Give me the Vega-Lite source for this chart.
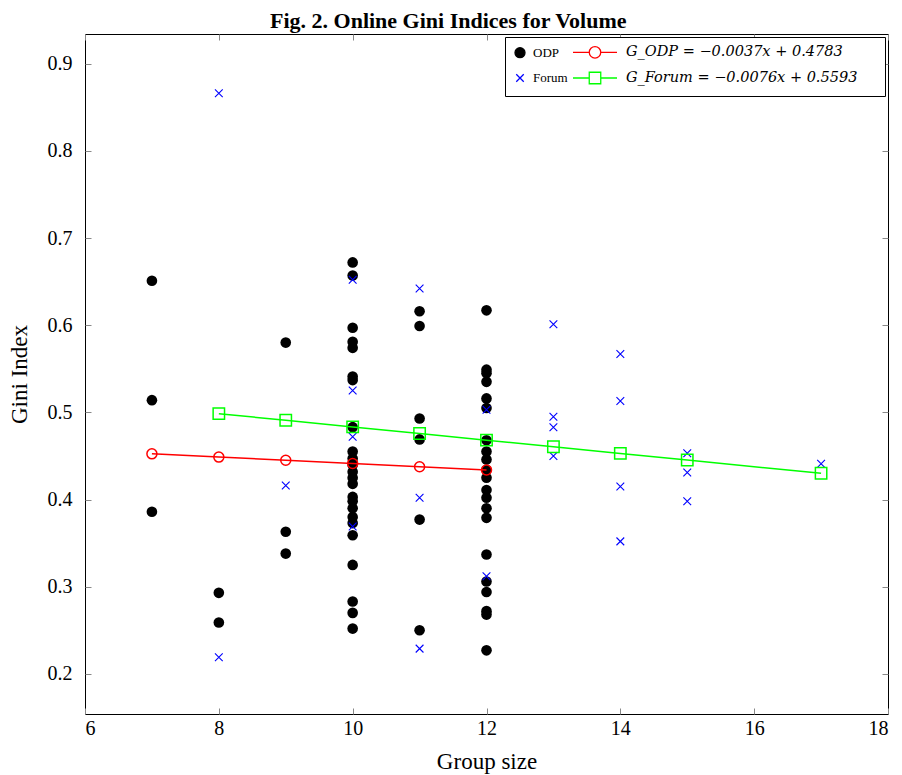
{
  "$schema": "https://vega.github.io/schema/vega-lite/v6.json",
  "width": 803,
  "height": 680,
  "autosize": {"type": "none"},
  "padding": {"left": 85, "top": 34, "right": 14, "bottom": 61},
  "background": "white",
  "title": {"text": "Fig. 2. Online Gini Indices for Volume", "font": "Liberation Serif", "fontSize": 22, "fontWeight": "bold", "color": "black", "anchor": "middle", "frame": "bounds", "offset": 1},
  "config": {
    "view": {"stroke": "black", "strokeWidth": 1},
    "axis": {"domain": false, "grid": false, "ticks": true, "tickColor": "#888888", "tickSize": -6, "tickWidth": 1, "labelFont": "Liberation Serif", "labelFontSize": 20, "labelColor": "black", "titleFont": "Liberation Serif", "titleFontSize": 23, "titleFontWeight": "normal", "titleColor": "black"},
    "legend": {"orient": "top-right", "offset": 3, "columns": 2, "columnPadding": 2, "rowPadding": 8, "padding": 9, "strokeColor": "black", "fillColor": "white", "cornerRadius": 0, "symbolSize": 100, "symbolStrokeWidth": 1.3, "labelFont": "Liberation Serif", "labelFontSize": 13, "labelColor": "black", "labelOffset": 7, "labelLimit": 400, "titleOrient": "right", "titleFontSize": 1, "titlePadding": 19}
  },
  "datasets": {
    "points": [
      {"group_size": 7, "gini": 0.651, "series": "ODP"},
      {"group_size": 7, "gini": 0.514, "series": "ODP"},
      {"group_size": 7, "gini": 0.386, "series": "ODP"},
      {"group_size": 8, "gini": 0.293, "series": "ODP"},
      {"group_size": 8, "gini": 0.259, "series": "ODP"},
      {"group_size": 9, "gini": 0.580, "series": "ODP"},
      {"group_size": 9, "gini": 0.363, "series": "ODP"},
      {"group_size": 9, "gini": 0.338, "series": "ODP"},
      {"group_size": 10, "gini": 0.672, "series": "ODP"},
      {"group_size": 10, "gini": 0.657, "series": "ODP"},
      {"group_size": 10, "gini": 0.597, "series": "ODP"},
      {"group_size": 10, "gini": 0.581, "series": "ODP"},
      {"group_size": 10, "gini": 0.574, "series": "ODP"},
      {"group_size": 10, "gini": 0.541, "series": "ODP"},
      {"group_size": 10, "gini": 0.537, "series": "ODP"},
      {"group_size": 10, "gini": 0.483, "series": "ODP"},
      {"group_size": 10, "gini": 0.455, "series": "ODP"},
      {"group_size": 10, "gini": 0.447, "series": "ODP"},
      {"group_size": 10, "gini": 0.440, "series": "ODP"},
      {"group_size": 10, "gini": 0.432, "series": "ODP"},
      {"group_size": 10, "gini": 0.425, "series": "ODP"},
      {"group_size": 10, "gini": 0.418, "series": "ODP"},
      {"group_size": 10, "gini": 0.403, "series": "ODP"},
      {"group_size": 10, "gini": 0.398, "series": "ODP"},
      {"group_size": 10, "gini": 0.390, "series": "ODP"},
      {"group_size": 10, "gini": 0.380, "series": "ODP"},
      {"group_size": 10, "gini": 0.373, "series": "ODP"},
      {"group_size": 10, "gini": 0.359, "series": "ODP"},
      {"group_size": 10, "gini": 0.325, "series": "ODP"},
      {"group_size": 10, "gini": 0.283, "series": "ODP"},
      {"group_size": 10, "gini": 0.270, "series": "ODP"},
      {"group_size": 10, "gini": 0.252, "series": "ODP"},
      {"group_size": 11, "gini": 0.616, "series": "ODP"},
      {"group_size": 11, "gini": 0.599, "series": "ODP"},
      {"group_size": 11, "gini": 0.493, "series": "ODP"},
      {"group_size": 11, "gini": 0.469, "series": "ODP"},
      {"group_size": 11, "gini": 0.377, "series": "ODP"},
      {"group_size": 11, "gini": 0.250, "series": "ODP"},
      {"group_size": 12, "gini": 0.617, "series": "ODP"},
      {"group_size": 12, "gini": 0.549, "series": "ODP"},
      {"group_size": 12, "gini": 0.545, "series": "ODP"},
      {"group_size": 12, "gini": 0.535, "series": "ODP"},
      {"group_size": 12, "gini": 0.516, "series": "ODP"},
      {"group_size": 12, "gini": 0.505, "series": "ODP"},
      {"group_size": 12, "gini": 0.468, "series": "ODP"},
      {"group_size": 12, "gini": 0.455, "series": "ODP"},
      {"group_size": 12, "gini": 0.446, "series": "ODP"},
      {"group_size": 12, "gini": 0.434, "series": "ODP"},
      {"group_size": 12, "gini": 0.425, "series": "ODP"},
      {"group_size": 12, "gini": 0.411, "series": "ODP"},
      {"group_size": 12, "gini": 0.402, "series": "ODP"},
      {"group_size": 12, "gini": 0.390, "series": "ODP"},
      {"group_size": 12, "gini": 0.379, "series": "ODP"},
      {"group_size": 12, "gini": 0.337, "series": "ODP"},
      {"group_size": 12, "gini": 0.306, "series": "ODP"},
      {"group_size": 12, "gini": 0.294, "series": "ODP"},
      {"group_size": 12, "gini": 0.272, "series": "ODP"},
      {"group_size": 12, "gini": 0.268, "series": "ODP"},
      {"group_size": 12, "gini": 0.227, "series": "ODP"},
      {"group_size": 8, "gini": 0.866, "series": "Forum"},
      {"group_size": 8, "gini": 0.219, "series": "Forum"},
      {"group_size": 9, "gini": 0.416, "series": "Forum"},
      {"group_size": 10, "gini": 0.652, "series": "Forum"},
      {"group_size": 10, "gini": 0.525, "series": "Forum"},
      {"group_size": 10, "gini": 0.472, "series": "Forum"},
      {"group_size": 10, "gini": 0.369, "series": "Forum"},
      {"group_size": 11, "gini": 0.642, "series": "Forum"},
      {"group_size": 11, "gini": 0.402, "series": "Forum"},
      {"group_size": 11, "gini": 0.229, "series": "Forum"},
      {"group_size": 12, "gini": 0.503, "series": "Forum"},
      {"group_size": 12, "gini": 0.312, "series": "Forum"},
      {"group_size": 13, "gini": 0.601, "series": "Forum"},
      {"group_size": 13, "gini": 0.495, "series": "Forum"},
      {"group_size": 13, "gini": 0.483, "series": "Forum"},
      {"group_size": 13, "gini": 0.450, "series": "Forum"},
      {"group_size": 14, "gini": 0.567, "series": "Forum"},
      {"group_size": 14, "gini": 0.513, "series": "Forum"},
      {"group_size": 14, "gini": 0.415, "series": "Forum"},
      {"group_size": 14, "gini": 0.352, "series": "Forum"},
      {"group_size": 15, "gini": 0.453, "series": "Forum"},
      {"group_size": 15, "gini": 0.431, "series": "Forum"},
      {"group_size": 15, "gini": 0.398, "series": "Forum"},
      {"group_size": 17, "gini": 0.441, "series": "Forum"}
    ],
    "fits": [
      {"group_size": 7, "gini": 0.4524, "series": "G_ODP = −0.0037x + 0.4783"},
      {"group_size": 8, "gini": 0.4487, "series": "G_ODP = −0.0037x + 0.4783"},
      {"group_size": 9, "gini": 0.4450, "series": "G_ODP = −0.0037x + 0.4783"},
      {"group_size": 10, "gini": 0.4413, "series": "G_ODP = −0.0037x + 0.4783"},
      {"group_size": 11, "gini": 0.4376, "series": "G_ODP = −0.0037x + 0.4783"},
      {"group_size": 12, "gini": 0.4339, "series": "G_ODP = −0.0037x + 0.4783"},
      {"group_size": 8, "gini": 0.4985, "series": "G_Forum = −0.0076x + 0.5593"},
      {"group_size": 9, "gini": 0.4909, "series": "G_Forum = −0.0076x + 0.5593"},
      {"group_size": 10, "gini": 0.4833, "series": "G_Forum = −0.0076x + 0.5593"},
      {"group_size": 11, "gini": 0.4757, "series": "G_Forum = −0.0076x + 0.5593"},
      {"group_size": 12, "gini": 0.4681, "series": "G_Forum = −0.0076x + 0.5593"},
      {"group_size": 13, "gini": 0.4605, "series": "G_Forum = −0.0076x + 0.5593"},
      {"group_size": 14, "gini": 0.4529, "series": "G_Forum = −0.0076x + 0.5593"},
      {"group_size": 15, "gini": 0.4453, "series": "G_Forum = −0.0076x + 0.5593"},
      {"group_size": 17, "gini": 0.4301, "series": "G_Forum = −0.0076x + 0.5593"}
    ]
  },
  "layer": [
    {
      "encoding": {
        "x": {"field": "group_size", "type": "quantitative", "scale": {"domain": [6, 18], "nice": false, "zero": false}, "axis": {"title": "Group size", "values": [6, 8, 10, 12, 14, 16, 18], "format": "d", "labelPadding": 10, "titlePadding": 12}},
        "y": {"field": "gini", "type": "quantitative", "scale": {"domain": [0.154, 0.934], "nice": false, "zero": false}, "axis": {"title": "Gini Index", "values": [0.2, 0.3, 0.4, 0.5, 0.6, 0.7, 0.8, 0.9], "format": ".1f", "labelPadding": 19, "titlePadding": 16}}
      },
      "layer": [
        {
          "data": {"name": "points"},
          "transform": [{"filter": "datum.series == 'ODP'"}],
          "mark": {"type": "point", "shape": "circle", "filled": true, "color": "black", "opacity": 1, "size": 113}
        },
        {
          "data": {"name": "points"},
          "transform": [{"filter": "datum.series == 'Forum'"}],
          "mark": {"type": "point", "shape": "M-1,-1L1,1M-1,1L1,-1", "filled": false, "color": "#0000ff", "opacity": 1, "size": 60, "strokeWidth": 1.1}
        },
        {
          "data": {"name": "fits"},
          "transform": [{"filter": "indexof(datum.series, 'ODP') >= 0"}],
          "mark": {"type": "line", "color": "#ff0000", "strokeWidth": 1.5}
        },
        {
          "data": {"name": "fits"},
          "transform": [{"filter": "indexof(datum.series, 'Forum') >= 0"}],
          "mark": {"type": "line", "color": "#00ff00", "strokeWidth": 1.5}
        },
        {
          "data": {"name": "fits"},
          "transform": [{"filter": "indexof(datum.series, 'ODP') >= 0"}],
          "mark": {"type": "point", "shape": "circle", "filled": false, "color": "#ff0000", "opacity": 1, "size": 100, "strokeWidth": 1.5}
        },
        {
          "data": {"name": "fits"},
          "transform": [{"filter": "indexof(datum.series, 'Forum') >= 0"}],
          "mark": {"type": "point", "shape": "square", "filled": false, "color": "#00ff00", "opacity": 1, "size": 130, "strokeWidth": 1.5}
        },
        {
          "data": {"name": "fits"},
          "transform": [{"filter": "datum.gini > 1"}],
          "mark": {"type": "point", "opacity": 1, "strokeWidth": 1.3},
          "encoding": {
            "shape": {"field": "series", "type": "nominal", "scale": {"domain": ["ODP", "Forum", "G_ODP = −0.0037x + 0.4783", "G_Forum = −0.0076x + 0.5593"], "range": ["circle", "M-0.75,-0.75L0.75,0.75M-0.75,0.75L0.75,-0.75", "M-4.4,0L-1.15,0M1.15,0L4.4,0M-1.15,0A1.15,1.15,0,1,1,1.15,0A1.15,1.15,0,1,1,-1.15,0", "M-4.4,0L-1.15,0M1.15,0L4.4,0M-1.15,-1.15L1.15,-1.15L1.15,1.15L-1.15,1.15Z"]},
              "legend": {"title": "\u00a0", "encoding": {"labels": {
                  "fontSize": {"condition": {"test": "indexof(datum.label, '=') > 0", "value": 14.5}, "value": 13},
                  "font": {"condition": {"test": "indexof(datum.label, '=') > 0", "value": "DejaVu Serif"}, "value": "Liberation Serif"},
                  "fontStyle": {"condition": {"test": "indexof(datum.label, '=') > 0", "value": "italic"}, "value": "normal"},
                  "dx": {"condition": {"test": "indexof(datum.label, '=') > 0", "value": 18}, "value": 0}
                }}}},
            "fill": {"field": "series", "type": "nominal", "scale": {"domain": ["ODP", "Forum", "G_ODP = −0.0037x + 0.4783", "G_Forum = −0.0076x + 0.5593"], "range": ["black", "transparent", "transparent", "transparent"]}},
            "stroke": {"field": "series", "type": "nominal", "scale": {"domain": ["ODP", "Forum", "G_ODP = −0.0037x + 0.4783", "G_Forum = −0.0076x + 0.5593"], "range": ["black", "#0000ff", "#ff0000", "#00ff00"]}}
          }
        }
      ]
    },
    {
      "data": {"name": "fits"},
      "transform": [{"filter": "datum.gini > 1"}],
      "mark": {"type": "point", "opacity": 0},
      "encoding": {
        "x": {"field": "group_size", "type": "quantitative", "scale": {"domain": [6, 18], "nice": false, "zero": false}, "axis": {"orient": "top", "title": null, "labels": false, "values": [6, 8, 10, 12, 14, 16, 18]}},
        "y": {"field": "gini", "type": "quantitative", "scale": {"domain": [0.154, 0.934], "nice": false, "zero": false}, "axis": {"orient": "right", "title": null, "labels": false, "values": [0.2, 0.3, 0.4, 0.5, 0.6, 0.7, 0.8, 0.9]}}
      }
    }
  ],
  "resolve": {"scale": {"x": "independent", "y": "independent"}}
}
